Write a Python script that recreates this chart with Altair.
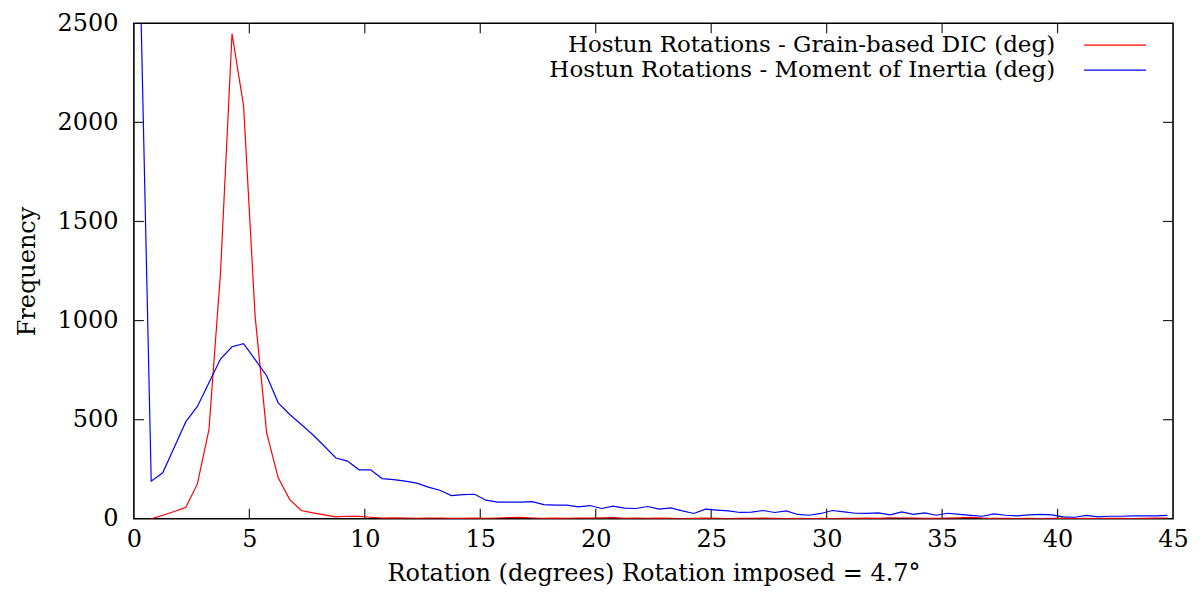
import altair as alt
import pandas as pd

# ---- data ----
x_centers = [
    0.25, 0.75, 1.25, 1.75, 2.25, 2.75, 3.25, 3.75, 4.25, 4.75,
    5.25, 5.75, 6.25, 6.75, 7.25, 7.75, 8.25, 8.75, 9.25, 9.75,
    10.25, 10.75, 11.25, 11.75, 12.25, 12.75, 13.25, 13.75, 14.25, 14.75,
    15.25, 15.75, 16.25, 16.75, 17.25, 17.75, 18.25, 18.75, 19.25, 19.75,
    20.25, 20.75, 21.25, 21.75, 22.25, 22.75, 23.25, 23.75, 24.25, 24.75,
    25.25, 25.75, 26.25, 26.75, 27.25, 27.75, 28.25, 28.75, 29.25, 29.75,
    30.25, 30.75, 31.25, 31.75, 32.25, 32.75, 33.25, 33.75, 34.25, 34.75,
    35.25, 35.75, 36.25, 36.75, 37.25, 37.75, 38.25, 38.75, 39.25, 39.75,
    40.25, 40.75, 41.25, 41.75, 42.25, 42.75, 43.25, 43.75, 44.25, 44.75,
]

moment_inertia = [
    2850, 190, 232, 361, 490, 567, 686, 806, 868, 884,
    803, 722, 585, 526, 476, 424, 366, 307, 291, 247,
    247, 203, 198, 190, 180, 160, 144, 117, 122, 124,
    94, 84, 84, 84, 87, 72, 69, 69, 60, 67,
    52, 64, 54, 52, 62, 49, 55, 40, 27, 49,
    44, 40, 32, 34, 42, 32, 40, 22, 18, 27,
    42, 35, 28, 27, 30, 20, 35, 22, 30, 18,
    28, 22, 17, 13, 25, 18, 15, 20, 22, 20,
    10, 8, 17, 10, 13, 13, 15, 15, 15, 17,
]

# grain-based DIC starts at the second bin (0.75)
grain_dic = [
    0, 18, 37, 58, 176, 450, 1240, 2447, 2083,
    1021, 433, 207, 97, 42, 30, 20, 10, 13, 12,
    8, 3, 5, 3, 2, 4, 3, 2, 2, 3,
    2, 4, 6, 7, 4, 2, 3, 2, 4, 3,
    5, 6, 2, 4, 2, 3, 2, 1, 2, 3,
    2, 1, 2, 2, 3, 2, 1, 2, 1, 2,
    1, 2, 2, 3, 2, 5, 4, 3, 2, 2,
    3, 5, 7, 3, 2, 2, 1, 2, 1, 2,
    3, 1, 2, 1, 2, 2, 1, 2, 3, 4,
]

series_names = [
    "Hostun Rotations - Grain-based DIC (deg)",
    "Hostun Rotations - Moment of Inertia (deg)",
]
series_colors = ["#ff0000", "#0000ff"]

x_ticks = [0, 5, 10, 15, 20, 25, 30, 35, 40, 45]
y_ticks = [0, 500, 1000, 1500, 2000, 2500]

x_title = "Rotation (degrees) Rotation imposed = 4.7°"
y_title = "Frequency"

assert len(x_centers) == len(moment_inertia)
assert len(grain_dic) == len(x_centers) - 1

FONT = "DejaVu Serif"
FS = 24
W, H = 1040, 496

rows = []
for xv, v in zip(x_centers[1:], grain_dic):
    rows.append({"x": xv, "freq": v, "series": series_names[0]})
for xv, v in zip(x_centers, moment_inertia):
    rows.append({"x": xv, "freq": v, "series": series_names[1]})
df = pd.DataFrame(rows)

xscale = alt.Scale(domain=[0, 45], nice=False, zero=False)
yscale = alt.Scale(domain=[0, 2500], nice=False)

lines = alt.Chart(df).mark_line(strokeWidth=1.2, clip=True).encode(
    x=alt.X("x:Q", scale=xscale,
            axis=alt.Axis(values=x_ticks, title=x_title, ticks=False, domain=False,
                          grid=False, labelFont=FONT, labelFontSize=FS, labelColor="black",
                          labelPadding=9, titleFont=FONT, titleFontSize=FS,
                          titleFontWeight="normal", titleColor="black", titlePadding=10,
                          labelFlush=False, format="d")),
    y=alt.Y("freq:Q", scale=yscale,
            axis=alt.Axis(values=y_ticks, title=y_title, ticks=False, domain=False,
                          grid=False, labelFont=FONT, labelFontSize=FS, labelColor="black",
                          labelPadding=16, titleFont=FONT, titleFontSize=FS,
                          titleFontWeight="normal", titleColor="black", titlePadding=17,
                          labelFlush=False, format="d")),
    color=alt.Color("series:N", scale=alt.Scale(domain=series_names, range=series_colors),
                    legend=None),
    detail="series:N",
)

xt = pd.DataFrame({"t": x_ticks[1:-1]})
yt = pd.DataFrame({"t": y_ticks[1:-1]})
TICK = "#222222"
TL = 10

xb = alt.Chart(xt).mark_rule(color=TICK, strokeWidth=1.2).encode(
    x=alt.X("t:Q", scale=xscale), y=alt.value(H), y2=alt.value(H - TL))
xtop = alt.Chart(xt).mark_rule(color=TICK, strokeWidth=1.2).encode(
    x=alt.X("t:Q", scale=xscale), y=alt.value(0), y2=alt.value(TL))
yl = alt.Chart(yt).mark_rule(color=TICK, strokeWidth=1.2).encode(
    y=alt.Y("t:Q", scale=yscale), x=alt.value(0), x2=alt.value(TL))
yr = alt.Chart(yt).mark_rule(color=TICK, strokeWidth=1.2).encode(
    y=alt.Y("t:Q", scale=yscale), x=alt.value(W), x2=alt.value(W - TL))

legend_layers = []
for i, (name, col) in enumerate(zip(series_names, series_colors)):
    ly = 22 + i * 25
    ldf = pd.DataFrame({"label": [name]})
    legend_layers.append(
        alt.Chart(ldf).mark_text(align="right", baseline="middle", font=FONT,
                                 fontSize=FS - 1, color="black").encode(
            text="label:N", x=alt.value(922), y=alt.value(ly))
    )
    legend_layers.append(
        alt.Chart(ldf).mark_rule(color=col, strokeWidth=1.2).encode(
            x=alt.value(951), x2=alt.value(1013), y=alt.value(ly))
    )

chart = alt.layer(lines, xb, xtop, yl, yr, *legend_layers).properties(
    width=W, height=H,
    autosize=alt.AutoSizeParams(type="none"),
    padding={"left": 126, "top": 15, "right": 20, "bottom": 70},
).configure_view(stroke="black", strokeWidth=1.6)

chart.save("out.html", embed_options={"renderer": "svg", "actions": False})
